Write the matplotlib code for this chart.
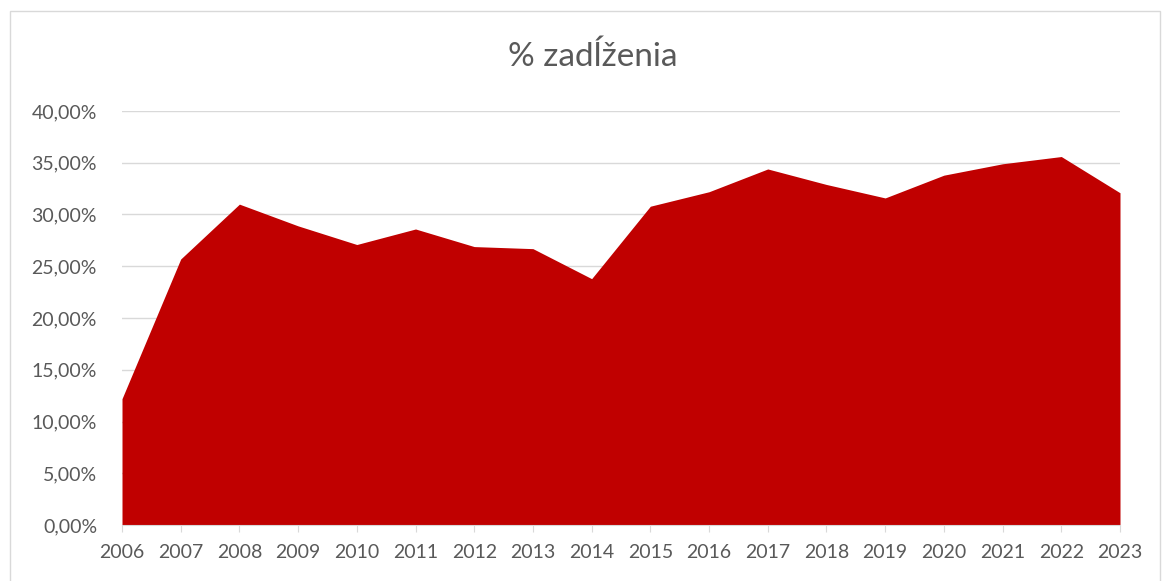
import matplotlib.pyplot as plt
from matplotlib.patches import Rectangle
from matplotlib.ticker import FuncFormatter

years = list(range(2006, 2024))
debt_pct = [12.2, 25.7, 31.0, 28.9, 27.1, 28.6, 26.9, 26.7, 23.8,
            30.8, 32.2, 34.4, 32.9, 31.6, 33.8, 34.9, 35.6, 32.1]
y_ticks = [0, 5, 10, 15, 20, 25, 30, 35, 40]

plt.rcParams['font.family'] = ['Lato', 'DejaVu Sans']

W, H = 1163, 581
fig = plt.figure(figsize=(W / 100, H / 100), dpi=100)
ax = fig.add_axes([122 / W, 1 - 525 / H, (1120 - 122) / W, (525 - 111) / H])

# chart border
fig.patches.append(Rectangle((10 / W, -0.05), (1160 - 10) / W, 1 - 11 / H + 0.05,
                             transform=fig.transFigure, fill=False,
                             edgecolor='#d9d9d9', linewidth=1))

ax.fill_between(years, debt_pct, 0, color='#C00000', linewidth=0, zorder=2)

ax.set_xlim(years[0], years[-1])
ax.set_ylim(0, 40)
ax.set_yticks(y_ticks)
ax.yaxis.set_major_formatter(FuncFormatter(lambda v, p: f"{v:.2f}%".replace('.', ',')))
ax.set_xticks(years)
ax.grid(axis='y', color='#d9d9d9', linewidth=1, zorder=0)
ax.set_axisbelow(True)

for s in ['top', 'right', 'left']:
    ax.spines[s].set_visible(False)
ax.spines['bottom'].set_color('#d9d9d9')
ax.tick_params(axis='y', length=0, pad=18, labelsize=14, labelcolor='#595959')
ax.tick_params(axis='x', length=5, color='#d9d9d9', pad=9, labelsize=14, labelcolor='#595959')

fig.text(593 / W, 1 - 57 / H, '% zadĺženia', ha='center', va='center',
         fontsize=24, color='#595959')

fig.savefig('out.png', dpi=100)
